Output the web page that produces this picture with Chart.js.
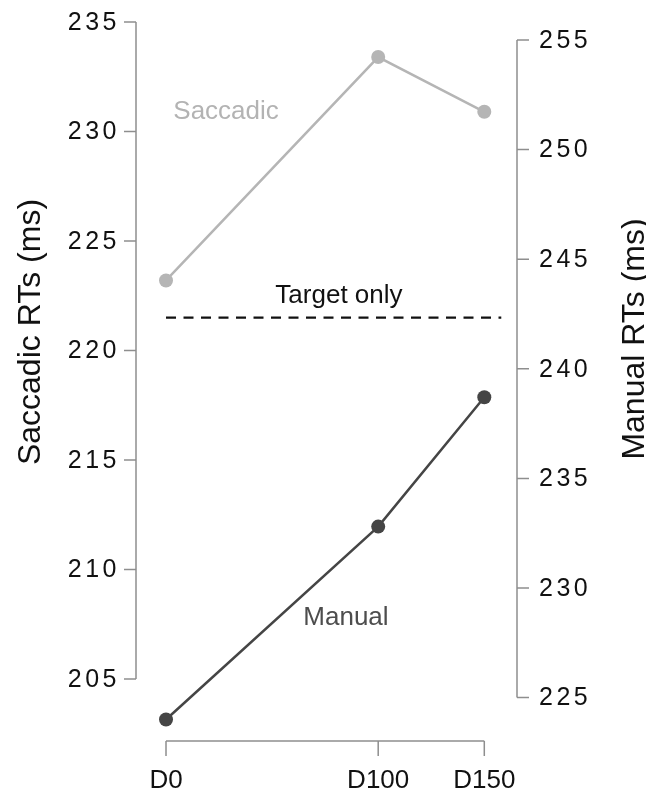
<!DOCTYPE html>
<html>
<head>
<meta charset="utf-8">
<script src="https://cdn.jsdelivr.net/npm/chart.js@4.4.1/dist/chart.umd.min.js"></script>
<style>
  html, body { margin: 0; padding: 0; background: #fff; }
  canvas { display: block; }
</style>
</head>
<body>
<canvas id="rt" width="646" height="794"></canvas>
<script>
// Delay conditions (ms) and their tick labels
const delays = [0, 100, 150];
const delayLabels = ['D0', 'D100', 'D150'];

// Mean reaction times per condition
const saccadicRT = [223.2, 233.4, 230.9];
const manualRT = [224.0, 232.8, 238.7];
const targetOnlyRT = 221.5;

// Axis tick values
const saccadicTicks = [205, 210, 215, 220, 225, 230, 235];
const manualTicks = [225, 230, 235, 240, 245, 250, 255];

const FONT = '"Liberation Sans", Arial, Helvetica, sans-serif';
const SACC_COLOR = '#b5b5b5';
const MAN_COLOR = '#454545';
const AXIS_COLOR = '#8e8e8e';

// In-plot text labels, positioned in data units
const notes = [
  { text: 'Saccadic', x: 28.3, y: 230.57, axis: 'yL', color: '#b3b3b3' },
  { text: 'Target only', x: 81.5, y: 222.17, axis: 'yL', color: '#111' },
  { text: 'Manual', x: 84.8, y: 228.31, axis: 'yR', color: '#4d4d4d' }
];

// Offset axis spines, ticks, labels and titles
const spinePlugin = {
  id: 'spines',
  beforeDatasetsDraw(chart) {
    const ctx = chart.ctx;
    const { left, right, bottom } = chart.chartArea;
    const xs = chart.scales.x, yL = chart.scales.yL, yR = chart.scales.yR;
    ctx.save();
    ctx.strokeStyle = AXIS_COLOR;
    ctx.lineWidth = 1.5;
    ctx.lineCap = 'butt';

    // left spine
    ctx.beginPath();
    ctx.moveTo(left, yL.getPixelForValue(saccadicTicks[saccadicTicks.length - 1]));
    ctx.lineTo(left, yL.getPixelForValue(saccadicTicks[0]));
    saccadicTicks.forEach(v => {
      const y = yL.getPixelForValue(v);
      ctx.moveTo(left - 12, y); ctx.lineTo(left, y);
    });
    ctx.stroke();

    // right spine
    ctx.beginPath();
    ctx.moveTo(right, yR.getPixelForValue(manualTicks[manualTicks.length - 1]));
    ctx.lineTo(right, yR.getPixelForValue(manualTicks[0]));
    manualTicks.forEach(v => {
      const y = yR.getPixelForValue(v);
      ctx.moveTo(right, y); ctx.lineTo(right + 12, y);
    });
    ctx.stroke();

    // bottom spine
    ctx.beginPath();
    ctx.moveTo(xs.getPixelForValue(delays[0]), bottom);
    ctx.lineTo(xs.getPixelForValue(delays[delays.length - 1]), bottom);
    delays.forEach(v => {
      const x = xs.getPixelForValue(v);
      ctx.moveTo(x, bottom); ctx.lineTo(x, bottom + 15);
    });
    ctx.stroke();

    // tick labels
    ctx.fillStyle = '#111';
    ctx.font = '25px ' + FONT;
    ctx.textBaseline = 'middle';
    if ('letterSpacing' in ctx) ctx.letterSpacing = '3.5px';
    ctx.textAlign = 'right';
    saccadicTicks.forEach(v => ctx.fillText(String(v), left - 16, yL.getPixelForValue(v) + 1));
    ctx.textAlign = 'left';
    manualTicks.forEach(v => ctx.fillText(String(v), right + 22, yR.getPixelForValue(v) + 1));
    if ('letterSpacing' in ctx) ctx.letterSpacing = '0px';

    ctx.font = '26px ' + FONT;
    ctx.textAlign = 'center';
    ctx.textBaseline = 'alphabetic';
    delays.forEach((v, i) => ctx.fillText(delayLabels[i], xs.getPixelForValue(v), bottom + 47));

    // axis titles
    ctx.font = '32px ' + FONT;
    ctx.save();
    ctx.translate(40, 332);
    ctx.rotate(-Math.PI / 2);
    ctx.fillText('Saccadic RTs (ms)', 0, 0);
    ctx.restore();
    ctx.save();
    ctx.translate(644, 339);
    ctx.rotate(-Math.PI / 2);
    ctx.fillText('Manual RTs (ms)', 0, 0);
    ctx.restore();

    // in-plot labels
    ctx.font = '26px ' + FONT;
    notes.forEach(n => {
      ctx.fillStyle = n.color;
      ctx.fillText(n.text, xs.getPixelForValue(n.x), chart.scales[n.axis].getPixelForValue(n.y));
    });
    ctx.restore();
  }
};

new Chart(document.getElementById('rt'), {
  type: 'line',
  data: {
    datasets: [
      {
        label: 'Target only',
        data: [{ x: delays[0], y: targetOnlyRT }, { x: 158, y: targetOnlyRT }],
        yAxisID: 'yL',
        borderColor: '#111',
        borderWidth: 2.2,
        borderDash: [10, 7.5],
        pointRadius: 0,
        fill: false
      },
      {
        label: 'Saccadic',
        data: delays.map((d, i) => ({ x: d, y: saccadicRT[i] })),
        yAxisID: 'yL',
        borderColor: SACC_COLOR,
        backgroundColor: SACC_COLOR,
        borderWidth: 2.5,
        pointRadius: 7,
        pointBorderWidth: 0,
        pointBackgroundColor: SACC_COLOR,
        tension: 0,
        fill: false
      },
      {
        label: 'Manual',
        data: delays.map((d, i) => ({ x: d, y: manualRT[i] })),
        yAxisID: 'yR',
        borderColor: MAN_COLOR,
        backgroundColor: MAN_COLOR,
        borderWidth: 2.5,
        pointRadius: 7,
        pointBorderWidth: 0,
        pointBackgroundColor: MAN_COLOR,
        tension: 0,
        fill: false
      }
    ]
  },
  options: {
    responsive: false,
    devicePixelRatio: 1,
    animation: false,
    events: [],
    layout: { padding: { left: 136, right: 129, top: 22, bottom: 53 } },
    plugins: { legend: { display: false }, tooltip: { enabled: false } },
    scales: {
      x: { type: 'linear', display: false, min: -14.14, max: 165.41 },
      yL: { type: 'linear', display: false, position: 'left', min: 202.17, max: 235 },
      yR: { type: 'linear', display: false, position: 'right', min: 223.02, max: 255.82 }
    }
  },
  plugins: [spinePlugin]
});
</script>
</body>
</html>
